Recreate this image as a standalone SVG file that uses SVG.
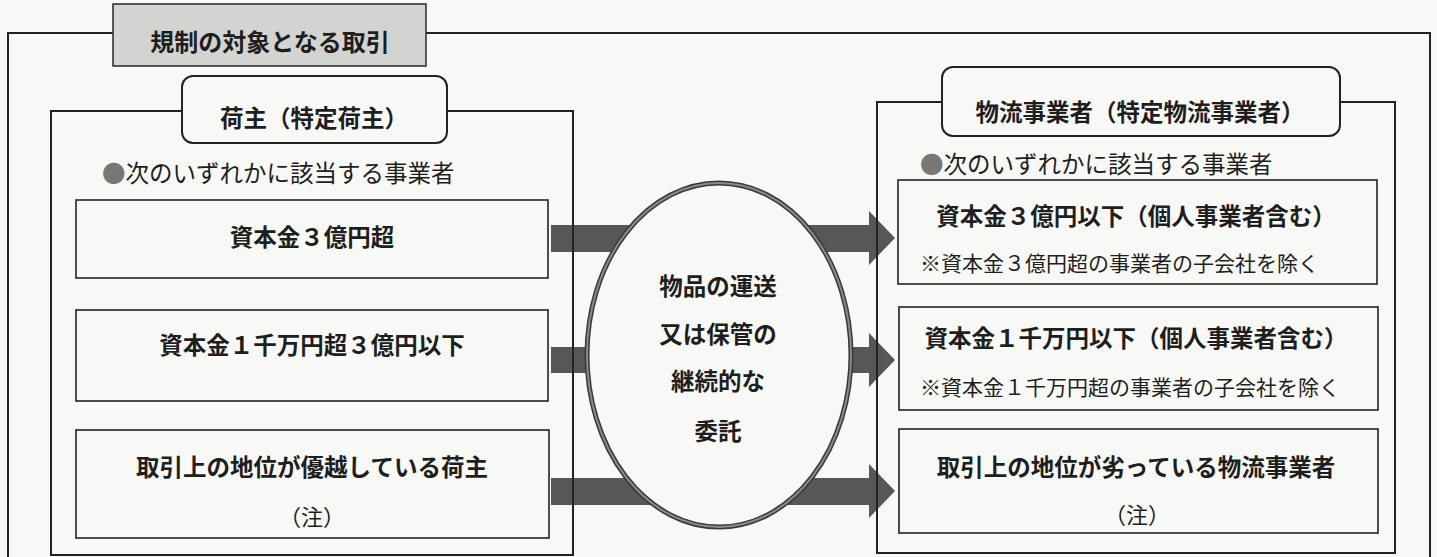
<svg xmlns="http://www.w3.org/2000/svg" width="1437" height="557" viewBox="0 0 1437 557">
<style>
text{font-family:"Noto Sans CJK JP","Noto Sans CJK SC",sans-serif;fill:#1e1e1e;dominant-baseline:central}
.b{font-weight:bold;font-size:23.5px;text-anchor:middle}
.r{font-size:23.5px}
.n{font-size:21px}
.frame{fill:none;stroke:#222;stroke-width:2}
.box{fill:none;stroke:#222;stroke-width:1.6}
.hdr{fill:#f8f8f6;stroke:#222;stroke-width:2}
.arrow{fill:#575757}
.dot{fill:#777}
</style>
<rect width="1437" height="557" fill="#f8f8f6"/>
<g id="outer-frame"><rect class="frame" x="8" y="33" width="1422" height="540"/></g>
<g id="title"><rect x="113" y="4" width="313" height="62" fill="#d3d3d1" stroke="#333" stroke-width="1.6"/><text class="b" x="270" y="40" style="font-size:24px">規制の対象となる取引</text></g>
<g id="connectors">
<polygon class="arrow" points="551,225 869,225 869,211 895,238 869,265 869,252 551,252"/>
<polygon class="arrow" points="551,347 869,347 869,333 895,360 869,387 869,373 551,373"/>
<polygon class="arrow" points="551,478 869,478 869,464 895,491 869,518 869,505 551,505"/>
</g>
<g id="shipper-panel">
<rect class="frame" x="51" y="111" width="522" height="444"/>
<rect class="hdr" x="182" y="76" width="265" height="67" rx="11"/>
<text class="b" x="314" y="117">荷主（特定荷主）</text>
<text class="r" x="102" y="172"><tspan class="dot">●</tspan>次のいずれかに該当する事業者</text>
</g>
<g id="shipper-box-1"><rect class="box" x="76" y="200" width="472" height="78"/><text class="b" x="312" y="236">資本金３億円超</text></g>
<g id="shipper-box-2"><rect class="box" x="76" y="310" width="472" height="91"/><text class="b" x="312" y="344">資本金１千万円超３億円以下</text></g>
<g id="shipper-box-3"><rect class="box" x="76" y="430" width="473" height="108"/><text class="b" x="312" y="466">取引上の地位が優越している荷主</text><text class="r" x="312" y="515" text-anchor="middle" style="font-size:22px">（注）</text></g>
<g id="logistics-panel">
<rect class="frame" x="877" y="102" width="518" height="451"/>
<rect class="hdr" x="942" y="67" width="398" height="69" rx="11"/>
<text class="b" x="1140" y="111">物流事業者（特定物流事業者）</text>
<text class="r" x="920" y="163"><tspan class="dot">●</tspan>次のいずれかに該当する事業者</text>
</g>
<g id="logistics-box-1"><rect class="box" x="898" y="180" width="479" height="104"/><text class="b" x="1136" y="215">資本金３億円以下（個人事業者含む）</text><text class="n" x="920" y="262">※資本金３億円超の事業者の子会社を除く</text></g>
<g id="logistics-box-2"><rect class="box" x="899" y="307" width="479" height="103"/><text class="b" x="1136" y="337">資本金１千万円以下（個人事業者含む）</text><text class="n" x="920" y="386">※資本金１千万円超の事業者の子会社を除く</text></g>
<g id="logistics-box-3"><rect class="box" x="899" y="429" width="479" height="104"/><text class="b" x="1136" y="466">取引上の地位が劣っている物流事業者</text><text class="r" x="1137" y="513" text-anchor="middle" style="font-size:22px">（注）</text></g>
<g id="consignment">
<ellipse cx="719" cy="355" rx="132" ry="172" fill="#f8f8f6" stroke="#3a3a3a" stroke-width="5"/>
<ellipse cx="719" cy="355" rx="132" ry="172" fill="none" stroke="#8a8a8a" stroke-width="2"/>
<text class="b" x="718" y="285">物品の運送</text>
<text class="b" x="718" y="333">又は保管の</text>
<text class="b" x="718" y="380">継続的な</text>
<text class="b" x="718" y="430">委託</text>
</g>
</svg>
